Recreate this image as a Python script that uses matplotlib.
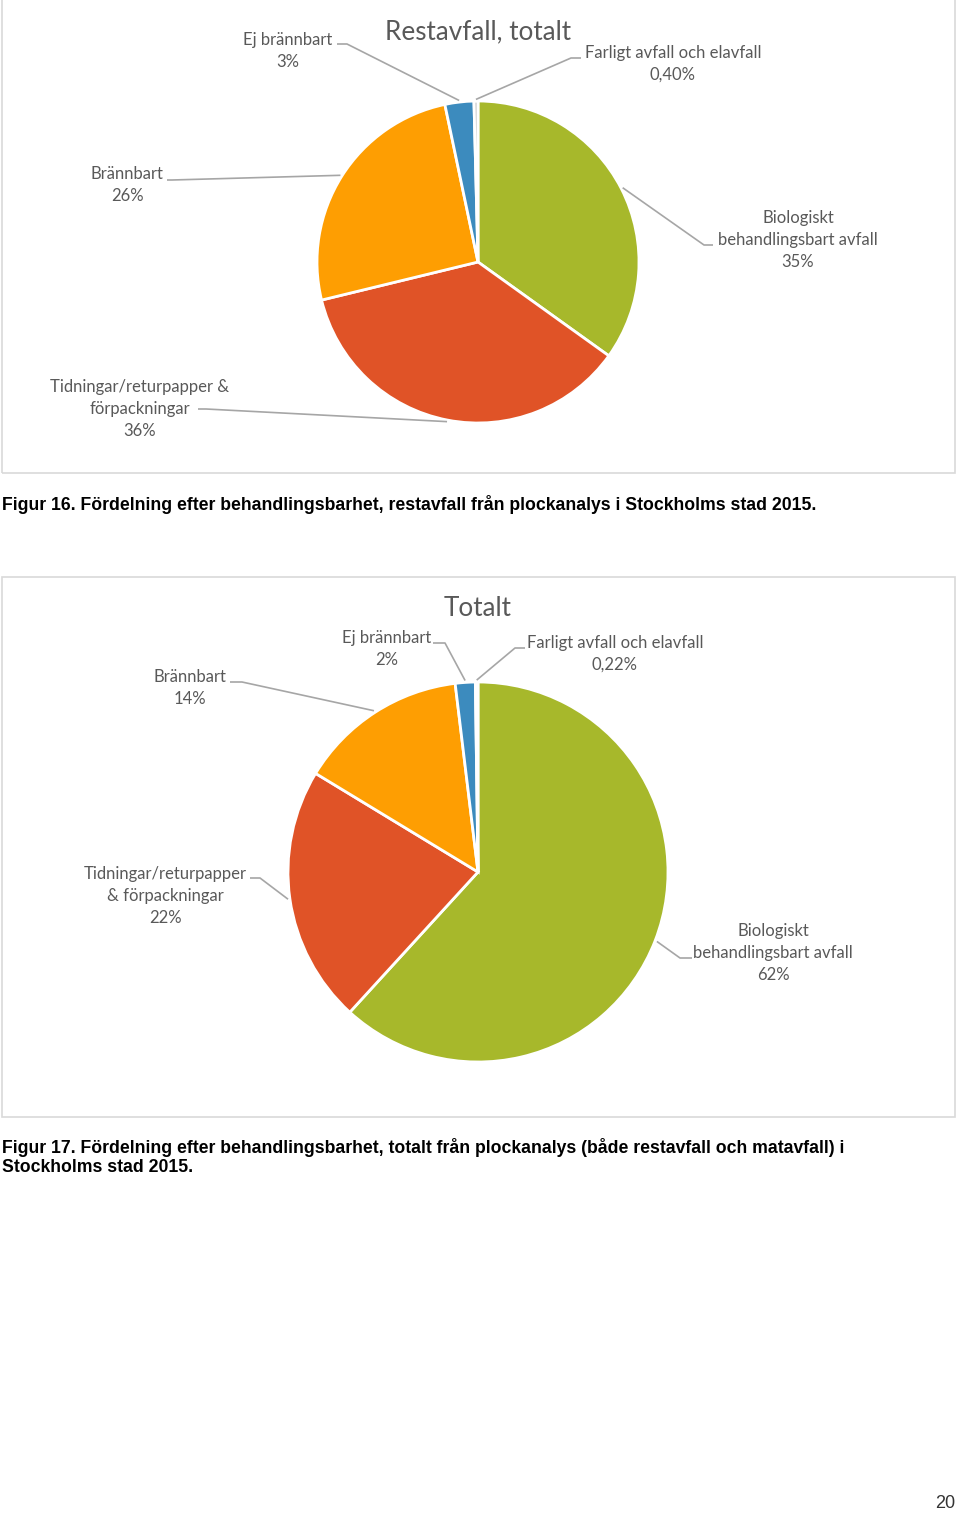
import numpy as np
import matplotlib.pyplot as plt
from matplotlib.patches import Rectangle

W, H = 960, 1514

# data
cats1 = ["Biologiskt\nbehandlingsbart avfall", "Tidningar/returpapper &\nförpackningar",
         "Brännbart", "Ej brännbart", "Farligt avfall och elavfall"]
vals1 = [34.9, 36.3, 25.5, 2.9, 0.4]
pct1 = ["35%", "36%", "26%", "3%", "0,40%"]

cats2 = ["Biologiskt\nbehandlingsbart avfall", "Tidningar/returpapper\n& förpackningar",
         "Brännbart", "Ej brännbart", "Farligt avfall och elavfall"]
vals2 = [61.8, 21.9, 14.4, 1.7, 0.22]
pct2 = ["62%", "22%", "14%", "2%", "0,22%"]

colors = ["#A7B82B", "#E05327", "#FE9E02", "#3C8BBE", "#C8C8C8"]

cap1 = "Figur 16. Fördelning efter behandlingsbarhet, restavfall från plockanalys i Stockholms stad 2015."
cap2 = ("Figur 17. Fördelning efter behandlingsbarhet, totalt från plockanalys (både restavfall och matavfall) i\n"
        "Stockholms stad 2015.")

TXT = "#595959"
LINE = "#A6A6A6"
FONT = "Lato"


def Y(py):
    return H - py


fig = plt.figure(figsize=(W / 100, H / 100), dpi=100)
ax = fig.add_axes([0, 0, 1, 1])


def draw_pie(vals, cats, pct, title, center, r, title_y, frame, lab_pos, anchors):
    cx, cy = center
    wedges, _ = ax.pie(vals, colors=colors, startangle=90, counterclock=False,
                       center=(cx, Y(cy)), radius=r,
                       wedgeprops=dict(edgecolor="white", linewidth=2))
    x0, y0, x1, y1 = frame
    ax.add_patch(Rectangle((x0, Y(y1)), x1 - x0, y1 - y0, fill=False,
                           edgecolor="#D9D9D9", linewidth=1.2))
    ax.text(cx, Y(title_y), title, ha="center", va="center", fontsize=18.8,
            color=TXT, family=FONT)
    for w, c, p, (tx, ty), (ax0, ay0, bx) in zip(wedges, cats, pct, lab_pos, anchors):
        ax.text(tx, Y(ty), c + "\n" + p, ha="center", va="center", fontsize=12,
                color=TXT, family=FONT, linespacing=1.48)
        mid = np.deg2rad((w.theta1 + w.theta2) / 2)
        ex = cx + r * 1.01 * np.cos(mid)
        ey = Y(cy) + r * 1.01 * np.sin(mid)
        ax.plot([ax0, bx, ex], [Y(ay0), Y(ay0), ey], color=LINE, lw=1.2,
                solid_capstyle="butt")


draw_pie(vals1, cats1, pct1, "Restavfall, totalt", (478, 262), 161, 32,
         (2, -2, 955, 473),
         [(798, 240), (140, 409), (127, 185), (288, 51), (673, 64)],
         [(713, 245, 704), (198, 409, 206), (167, 180, 172), (337, 44, 347), (581, 58, 571)])

draw_pie(vals2, cats2, pct2, "Totalt", (478, 872), 190, 609,
         (2, 577, 955, 1117),
         [(773, 953), (165, 896), (190, 688), (387, 649), (615, 654)],
         [(692, 958, 680), (250, 878, 260), (230, 682, 242), (433, 643, 445), (525, 648, 515)])

ax.text(2, Y(504), cap1, ha="left", va="center", fontsize=12.7, fontweight="bold",
        family="Liberation Sans", color="black")
ax.text(2, Y(1157), cap2, ha="left", va="center", fontsize=12.7, fontweight="bold",
        family="Liberation Sans", color="black", linespacing=1.12)
ax.text(955, Y(1504), "20", ha="right", va="center", fontsize=13,
        family="Liberation Sans", color="#333333")

ax.set_xlim(0, W)
ax.set_ylim(0, H)
ax.set_aspect("equal")
ax.axis("off")

fig.savefig("out.png", dpi=100, facecolor="white")
